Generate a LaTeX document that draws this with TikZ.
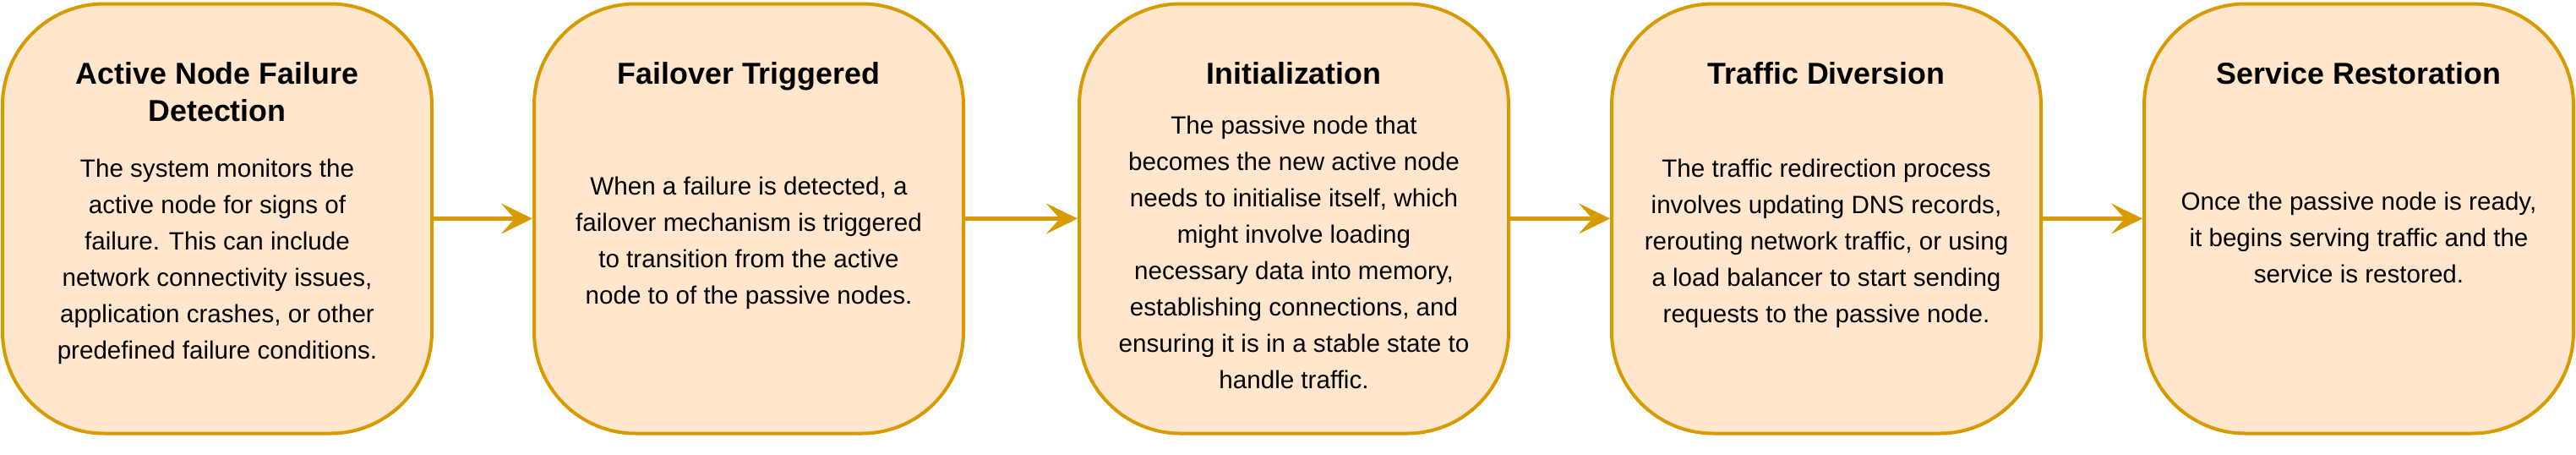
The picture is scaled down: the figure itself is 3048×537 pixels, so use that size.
\documentclass[tikz,border=0pt]{standalone}
\usepackage{fontspec}
\setmainfont{Liberation Sans}
\usetikzlibrary{arrows.meta,positioning}
\definecolor{stepfill}{HTML}{FFE6CC}
\definecolor{stepline}{HTML}{D79B00}

\begin{document}
\begin{tikzpicture}[x=0.5pt,y=-0.5pt,
    stepbox/.style={draw=stepline,fill=stepfill,line width=2pt,rounded corners=60pt,minimum width=254pt,minimum height=254pt,inner sep=0pt},
    steptitle/.style={anchor=north,align=center,inner sep=0pt,font=\fontsize{17.9}{22.25}\selectfont\bfseries},
    stepbody/.style={anchor=north,align=center,inner sep=0pt,font=\fontsize{14.8}{21.5}\selectfont},
    flow/.style={draw=stepline,line width=2.5pt,-{Stealth[length=18.5pt,width=18pt,inset=8pt]}}]
    \useasboundingbox (0,0) rectangle (3048,537);
    % boxes
    \node[stepbox] (detect) at (257,258.5) {};
    \node[stepbox] (trigger) at (886,258.5) {};
    \node[stepbox] (init) at (1531,258.5) {};
    \node[stepbox] (divert) at (2161,258.5) {};
    \node[stepbox] (restore) at (2791,258.5) {};
    % titles
    \node[steptitle] (detecttitle) at (257,73) {Active Node Failure\\Detection};
    \node[steptitle] (triggertitle) at (886,73) {Failover Triggered};
    \node[steptitle] (inittitle) at (1531,73) {Initialization};
    \node[steptitle] (diverttitle) at (2161,73) {Traffic Diversion};
    \node[steptitle] (restoretitle) at (2791,73) {Service Restoration};
    % texts
    \node[stepbody] (detecttext) at (257,188) {The system monitors the\\active node for signs of\\failure. This can include\\network connectivity issues,\\application crashes, or other\\predefined failure conditions.};
    \node[stepbody] (triggertext) at (886,209) {When a failure is detected, a\\failover mechanism is triggered\\to transition from the active\\node to of the passive nodes.};
    \node[stepbody] (inittext) at (1531,137) {The passive node that\\becomes the new active node\\needs to initialise itself, which\\might involve loading\\necessary data into memory,\\establishing connections, and\\ensuring it is in a stable state to\\handle traffic.};
    \node[stepbody] (diverttext) at (2161,188) {The traffic redirection process\\involves updating DNS records,\\rerouting network traffic, or using\\a load balancer to start sending\\requests to the passive node.};
    \node[stepbody] (restoretext) at (2791,227) {Once the passive node is ready,\\it begins serving traffic and the\\service is restored.};
    % arrows
    \draw[flow] (detect) -- (trigger);
    \draw[flow] (trigger) -- (init);
    \draw[flow] (init) -- (divert);
    \draw[flow] (divert) -- (restore);
\end{tikzpicture}
\end{document}
